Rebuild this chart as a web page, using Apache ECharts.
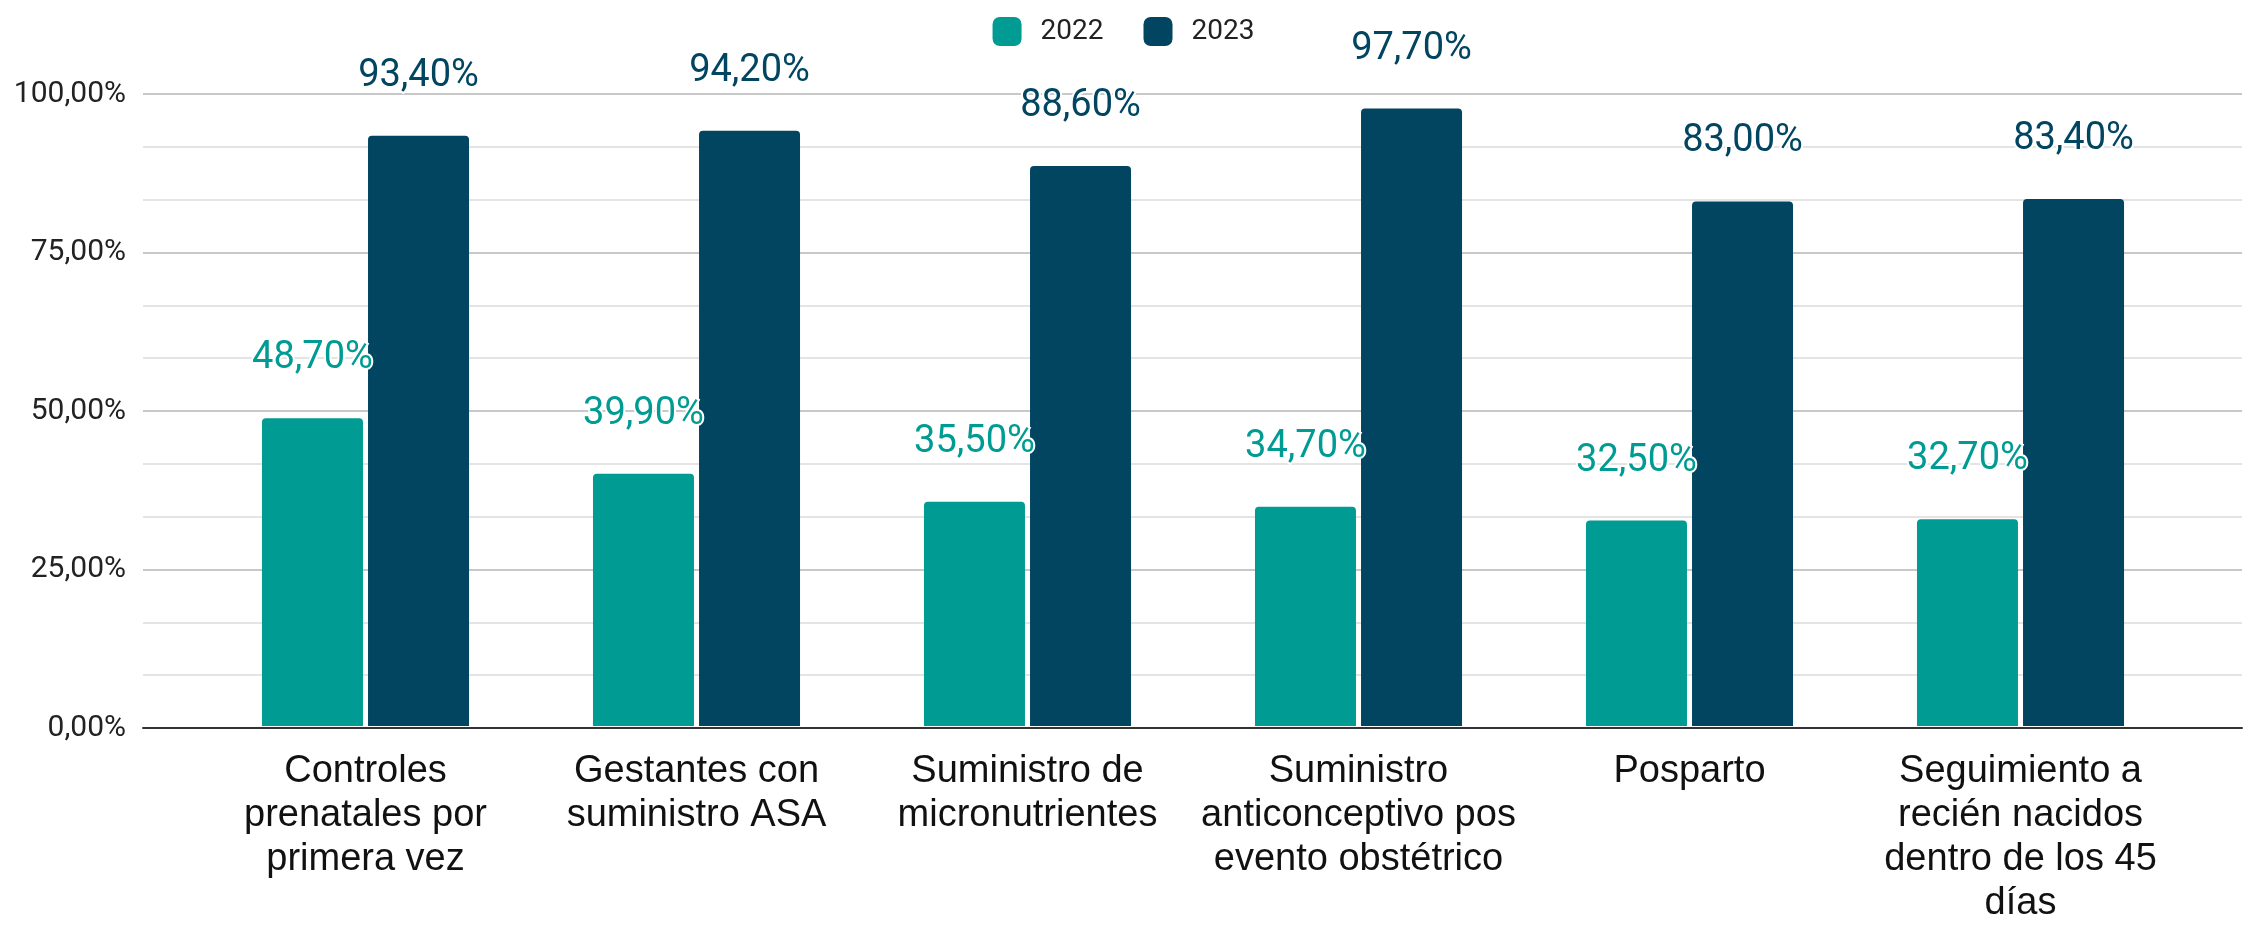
<!DOCTYPE html>
<html>
<head>
<meta charset="utf-8">
<script src="https://cdn.jsdelivr.net/npm/echarts@6/dist/echarts.min.js"></script>
<style>
  html, body { margin: 0; padding: 0; background: #fff; }
  #chart { width: 2247px; height: 926px; }
</style>
</head>
<body>
<div id="chart"></div>
<script>
// categorias (con saltos de linea como en el original)
const categorias = [
  'Controles\nprenatales por\nprimera vez',
  'Gestantes con\nsuministro ASA',
  'Suministro de\nmicronutrientes',
  'Suministro\nanticonceptivo pos\nevento obstétrico',
  'Posparto',
  'Seguimiento a\nrecién nacidos\ndentro de los 45\ndías'
];
const valores2022 = [48.7, 39.9, 35.5, 34.7, 32.5, 32.7];
const valores2023 = [93.4, 94.2, 88.6, 97.7, 83.0, 83.4];
const anios = ['2022', '2023'];

const colorTeal = '#009B93';
const colorNavy = '#014561';

const pct = v => v.toFixed(2).replace('.', ',') + '%';

const chart = echarts.init(document.getElementById('chart'));

const etiqueta = color => ({
  show: true,
  position: 'top',
  distance: 40,
  formatter: p => pct(p.value),
  color: color,
  fontFamily: 'Roboto',
  fontSize: 38,
  lineHeight: 39,
  textBorderColor: '#fff',
  textBorderWidth: 4
});

const option = {
  animation: false,
  legend: {
    data: anios,
    top: 12,
    left: 'center',
    icon: 'roundRect',
    itemWidth: 29,
    itemHeight: 29,
    itemGap: 40,
    textStyle: {
      fontFamily: 'Roboto',
      fontSize: 28,
      color: '#222',
      padding: [0, 0, 0, 14]
    }
  },
  grid: [
    // rejilla ancha: lineas guia y eje
    { left: 143, right: 5, top: 94, bottom: 198 },
    // rejilla de las barras
    { left: 200, right: 61, top: 94, bottom: 198 }
  ],
  xAxis: [
    {
      gridIndex: 0,
      type: 'category',
      data: [''],
      axisLine: { show: true, lineStyle: { color: '#333', width: 2 } },
      axisTick: { show: false },
      axisLabel: { show: false },
      z: 5
    },
    {
      gridIndex: 1,
      type: 'category',
      data: categorias,
      axisLine: { show: false },
      axisTick: { show: false },
      axisLabel: {
        interval: 0,
        margin: 24,
        fontFamily: 'Liberation Sans',
        fontSize: 38,
        lineHeight: 44,
        color: '#111',
        align: 'center'
      }
    }
  ],
  yAxis: [
    {
      gridIndex: 0,
      type: 'value',
      min: 0,
      max: 100,
      interval: 25,
      axisLine: { show: false },
      axisTick: { show: false },
      axisLabel: {
        formatter: v => pct(v),
        margin: 17,
        fontFamily: 'Roboto',
        fontSize: 30,
        color: '#222'
      },
      splitLine: { lineStyle: { color: '#c8c8c8', width: 2 } },
      minorTick: { show: false, splitNumber: 3 },
      minorSplitLine: { show: true, lineStyle: { color: '#e4e4e4', width: 2 } }
    },
    {
      gridIndex: 1,
      type: 'value',
      min: 0,
      max: 100,
      show: false
    }
  ],
  series: [
    {
      name: anios[0],
      type: 'bar',
      xAxisIndex: 1,
      yAxisIndex: 1,
      data: valores2022,
      barWidth: 101,
      barGap: '5%',
      itemStyle: { color: colorTeal, borderRadius: [4, 4, 0, 0] },
      label: etiqueta(colorTeal)
    },
    {
      name: anios[1],
      type: 'bar',
      xAxisIndex: 1,
      yAxisIndex: 1,
      data: valores2023,
      barWidth: 101,
      barGap: '5%',
      itemStyle: { color: colorNavy, borderRadius: [4, 4, 0, 0] },
      label: etiqueta(colorNavy)
    }
  ]
};

chart.setOption(option);
</script>
</body>
</html>
